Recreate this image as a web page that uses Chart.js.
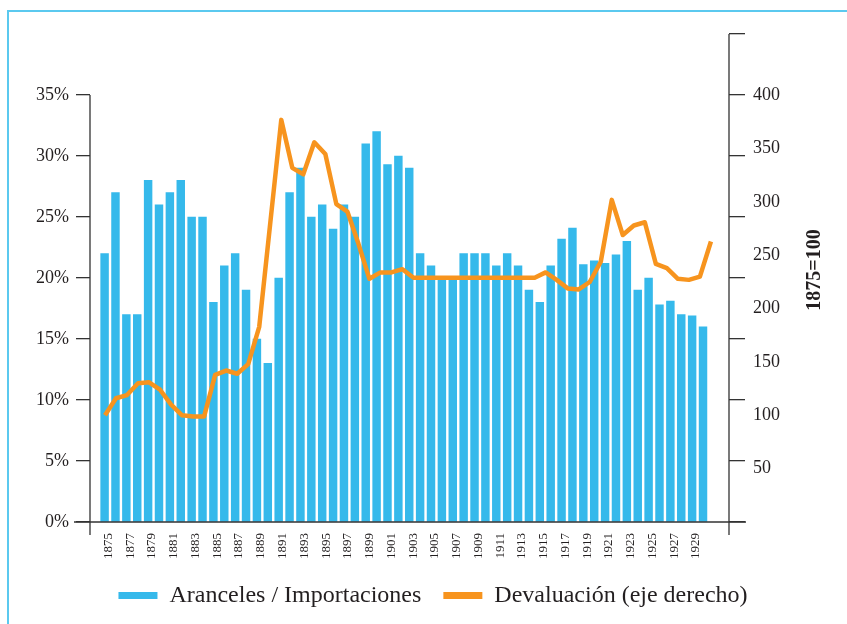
<!DOCTYPE html>
<html>
<head>
<meta charset="utf-8">
<script src="https://cdn.jsdelivr.net/npm/chart.js@4/dist/chart.umd.min.js"></script>
<style>
  html, body { margin: 0; padding: 0; background: #fff; overflow: hidden; }
  #wrap { position: absolute; left: 0; top: 0; width: 847px; height: 624px; }
  #frame { position: absolute; left: 7px; top: 10px; width: 860px; height: 640px;
           border-left: 2px solid #5bc9ef; border-top: 2px solid #5bc9ef; }
</style>
</head>
<body>
<div id="frame"></div>
<div id="wrap"><canvas id="chart" width="847" height="624"></canvas></div>
<script>
// años (eje x)
const years = [
  1875, 1876, 1877, 1878, 1879, 1880, 1881, 1882, 1883, 1884,
  1885, 1886, 1887, 1888, 1889, 1890, 1891, 1892, 1893, 1894,
  1895, 1896, 1897, 1898, 1899, 1900, 1901, 1902, 1903, 1904,
  1905, 1906, 1907, 1908, 1909, 1910, 1911, 1912, 1913, 1914,
  1915, 1916, 1917, 1918, 1919, 1920, 1921, 1922, 1923, 1924,
  1925, 1926, 1927, 1928, 1929, 1930
];
const tickYears = [
  1875, 1877, 1879, 1881, 1883, 1885, 1887, 1889, 1891, 1893,
  1895, 1897, 1899, 1901, 1903, 1905, 1907, 1909, 1911, 1913,
  1915, 1917, 1919, 1921, 1923, 1925, 1927, 1929
];

// Aranceles / Importaciones (%)
const aranceles = [
  22, 27, 17, 17, 28, 26, 27, 28, 25, 25,
  18, 21, 22, 19, 15, 13, 20, 27, 29, 25,
  26, 24, 26, 25, 31, 32, 29.3, 30, 29, 22,
  21, 20, 20, 22, 22, 22, 21, 22, 21, 19,
  18, 21, 23.2, 24.1, 21.1, 21.4, 21.2, 21.9, 23, 19,
  20, 17.8, 18.1, 17, 16.9, 16
];

// Devaluación, 1875=100 (eje derecho)
const devaluacion = [
  100, 116, 119, 130, 131, 124, 110, 100, 99, 99,
  138, 142, 139, 148, 183, 280, 377, 332, 326, 356,
  345, 298, 291, 261, 228, 234, 234, 237, 229, 229,
  229, 229, 229, 229, 229, 229, 229, 229, 229, 229,
  234, 227, 219, 218, 225, 244, 302, 269, 278, 281,
  242, 238, 228, 227, 230, 263
];

const leftTicks = [0, 5, 10, 15, 20, 25, 30, 35];
const rightTicks = [50, 100, 150, 200, 250, 300, 350, 400];

const BLUE = '#35b9eb';
const ORANGE = '#f7941e';
const INK = '#231f20';
const SERIF = '"Liberation Serif", "Times New Roman", serif';

// líneas de ejes y título del eje derecho
const axisDecor = {
  id: 'axisDecor',
  afterDraw(chart) {
    const { ctx, chartArea: { left, right, top, bottom }, scales: { y, y1 } } = chart;
    ctx.save();
    ctx.strokeStyle = '#333';
    ctx.lineWidth = 1.3;
    ctx.beginPath();
    ctx.moveTo(left, y.getPixelForValue(35));
    ctx.lineTo(left, bottom + 13);
    ctx.moveTo(right, top);
    ctx.lineTo(right, bottom + 13);
    ctx.moveTo(left - 16, bottom);
    ctx.lineTo(right + 17, bottom);
    ctx.stroke();

    ctx.fillStyle = INK;
    ctx.font = 'bold 20px ' + SERIF;
    ctx.textAlign = 'center';
    ctx.textBaseline = 'middle';
    ctx.translate(y1.right - 32, (top + bottom) / 2 - 8);
    ctx.rotate(-Math.PI / 2);
    ctx.fillText('1875=100', 0, 0);
    ctx.restore();
  }
};

new Chart(document.getElementById('chart'), {
  type: 'bar',
  data: {
    labels: years,
    datasets: [
      {
        type: 'bar',
        label: 'Aranceles / Importaciones',
        data: aranceles,
        backgroundColor: BLUE,
        borderWidth: 0,
        barThickness: 7.8,
        xAxisID: 'x',
        yAxisID: 'y',
        order: 1
      },
      {
        type: 'line',
        label: 'Devaluación (eje derecho)',
        data: devaluacion,
        borderColor: ORANGE,
        backgroundColor: ORANGE,
        borderWidth: 4.5,
        borderJoinStyle: 'round',
        pointRadius: 0,
        tension: 0,
        xAxisID: 'x2',
        yAxisID: 'y1',
        order: 0
      }
    ]
  },
  plugins: [axisDecor],
  options: {
    responsive: false,
    animation: false,
    events: [],
    layout: { padding: { top: 34, left: 19, right: 0, bottom: 6.5 } },
    plugins: {
      tooltip: { enabled: false },
      legend: {
        position: 'bottom',
        labels: {
          font: { family: SERIF, size: 24 },
          color: INK,
          boxWidth: 39,
          boxHeight: 7,
          padding: 22,
          sort: (a, b) => a.datasetIndex - b.datasetIndex,
          generateLabels: chart =>
            Chart.defaults.plugins.legend.labels.generateLabels(chart)
              .map(l => ({ ...l, lineWidth: 0 }))
        }
      }
    },
    scales: {
      x: {
        type: 'linear',
        offset: false,
        min: 1873.3,
        max: 1932.03,
        grid: { display: false, drawTicks: false },
        border: { display: false },
        afterBuildTicks: scale => { scale.ticks = tickYears.map(v => ({ value: v })); },
        afterFit: scale => { scale.height = 39.5; },
        ticks: {
          autoSkip: false,
          minRotation: 90,
          maxRotation: 90,
          padding: 11,
          color: INK,
          font: { family: SERIF, size: 13 },
          callback: v => String(v)
        }
      },
      x2: {
        type: 'linear',
        offset: false,
        display: false,
        min: 1873.64,
        max: 1931.64
      },
      y: {
        position: 'left',
        min: 0,
        max: 40,
        afterBuildTicks: scale => { scale.ticks = leftTicks.concat([40]).map(v => ({ value: v })); },
        afterFit: scale => { scale.width = 71; },
        border: { display: false },
        grid: {
          drawOnChartArea: false,
          drawTicks: true,
          tickLength: 14,
          lineWidth: 1.3,
          color: ctx => (ctx.tick && ctx.tick.value > 35 ? 'rgba(0,0,0,0)' : '#333')
        },
        ticks: {
          padding: 7,
          color: INK,
          font: { family: SERIF, size: 18 },
          callback: v => (v > 35 ? '' : v + '%')
        }
      },
      yR: {
        position: 'right',
        weight: 0,
        min: 0,
        max: 40,
        afterBuildTicks: scale => { scale.ticks = leftTicks.concat([40]).map(v => ({ value: v })); },
        afterFit: scale => { scale.width = 16; },
        border: { display: false },
        grid: {
          drawOnChartArea: false,
          drawTicks: true,
          tickLength: 16,
          lineWidth: 1.3,
          color: '#333'
        },
        ticks: { display: false }
      },
      y1: {
        position: 'right',
        weight: 1,
        min: 0,
        max: 457.5,
        afterBuildTicks: scale => { scale.ticks = rightTicks.map(v => ({ value: v })); },
        afterFit: scale => { scale.width = 102; },
        border: { display: false },
        grid: { display: false, drawTicks: false },
        ticks: {
          padding: 8,
          color: INK,
          font: { family: SERIF, size: 18 },
          callback: v => String(v)
        }
      }
    }
  }
});
</script>
</body>
</html>
